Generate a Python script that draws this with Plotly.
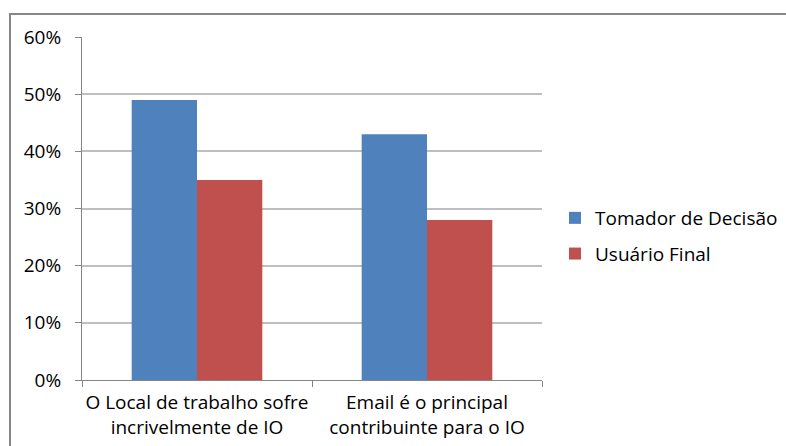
import plotly.graph_objects as go

categories = ["O Local de trabalho sofre<br>incrivelmente de IO",
              "Email é o principal<br>contribuinte para o IO"]
series_names = ["Tomador de Decisão", "Usuário Final"]
tomador = [0.49, 0.43]
usuario = [0.35, 0.28]
colors = ["#4F81BD", "#C0504D"]
y_ticks = [0, 0.1, 0.2, 0.3, 0.4, 0.5, 0.6]

W, H = 786, 446
L, R, T, B = 82, 244, 37, 66
pw, ph = W - L - R, H - T - B

def px_x(p):
    return (p - L) / pw

def px_y(p):
    return (H - B - p) / ph

FONT = "Open Sans"
FS = 19

fig = go.Figure()
for i, (name, vals, col) in enumerate(zip(series_names, [tomador, usuario], colors)):
    fig.add_trace(go.Bar(x=categories, y=vals, name=name, legendgroup=f"g{i}",
                         marker=dict(color=col, line=dict(width=0))))

fig.update_layout(
    width=W, height=H,
    margin=dict(l=L, r=R, t=T, b=B, autoexpand=False),
    paper_bgcolor="white", plot_bgcolor="white",
    barmode="group", bargap=0.432, bargroupgap=0,
    font=dict(family=FONT, size=FS, color="#000000"),
    showlegend=True,
    legend=dict(x=px_x(555), y=px_y(199), xanchor="left", yanchor="top",
                font=dict(family=FONT, size=FS, color="#000000"),
                itemwidth=30, tracegroupgap=8, bgcolor="rgba(0,0,0,0)"),
)
fig.update_xaxes(showline=True, linecolor="#868686", linewidth=1,
                 ticks="outside", tickson="boundaries", ticklen=6, tickcolor="#868686",
                 ticklabelstandoff=5, tickangle=0, automargin=False,
                 tickfont=dict(family=FONT, size=FS, color="#000000"),
                 showgrid=False, fixedrange=True)
fig.update_yaxes(range=[0, 0.6], tickvals=y_ticks, tickformat=".0%",
                 showline=True, linecolor="#868686", linewidth=1,
                 ticks="outside", ticklen=6, tickcolor="#868686",
                 ticklabelstandoff=10, automargin=False,
                 showgrid=True, gridcolor="#BFBFBF", gridwidth=1.5,
                 zeroline=False,
                 tickfont=dict(family=FONT, size=FS, color="#000000"),
                 fixedrange=True)

# outer chart border (extends past the right and bottom edges)
fig.add_shape(type="rect", xref="paper", yref="paper",
              x0=px_x(10), x1=px_x(820), y0=px_y(480), y1=px_y(14),
              line=dict(color="#868686", width=2), fillcolor="rgba(0,0,0,0)",
              layer="below")

fig.write_html("out.html")
